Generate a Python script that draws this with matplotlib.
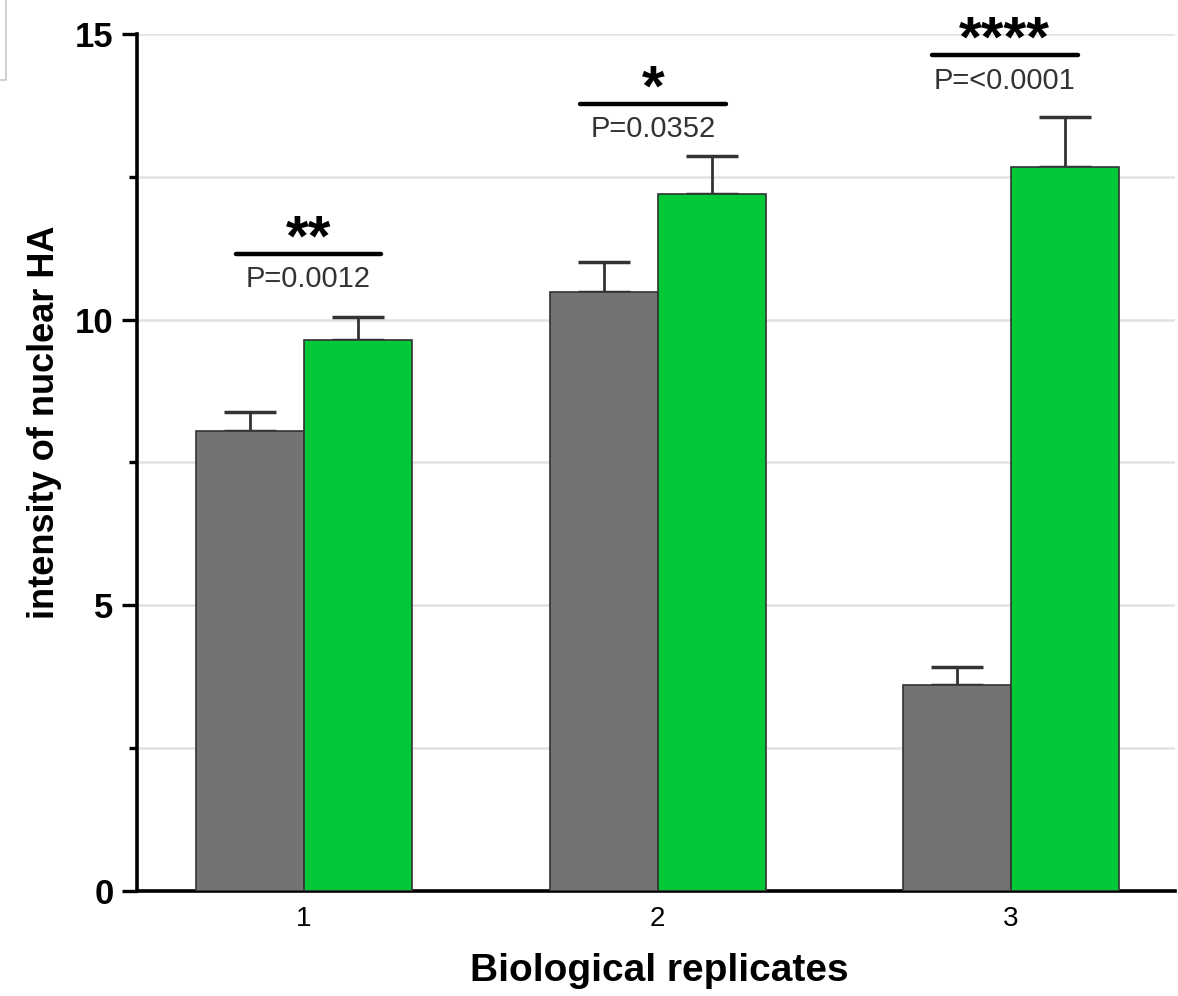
import matplotlib.pyplot as plt
import numpy as np
from matplotlib.lines import Line2D

plt.rcParams['font.family'] = ['Liberation Sans', 'DejaVu Sans']

# data
replicates = ['1', '2', '3']
control_mean = [8.05, 10.49, 3.61]
control_err = [0.33, 0.52, 0.31]
treated_mean = [9.64, 12.20, 12.67]
treated_err = [0.41, 0.67, 0.88]

# significance annotations
sig_stars = ['**', '*', '****']
sig_pvals = ['P=0.0012', 'P=0.0352', 'P=<0.0001']
sig_level = [11.15, 13.78, 14.63]
sig_left = [-0.192, -0.218, -0.224]
sig_right = [0.218, 0.193, 0.189]

gray = '#737373'
green = '#00c837'
edge = '#333333'

fig = plt.figure(figsize=(11.78, 9.96), dpi=100)
ax = fig.add_axes([0.1163, 0.1054, 0.8812, 0.8605])

x = np.arange(len(replicates))
width = 0.3055

ax.bar(x - width / 2, control_mean, width, color=gray, edgecolor=edge, linewidth=1.2, zorder=3)
ax.bar(x + width / 2, treated_mean, width, color=green, edgecolor=edge, linewidth=1.2, zorder=3)

zeros = [0] * len(x)
ax.errorbar(x - width / 2, control_mean, yerr=[zeros, control_err], fmt='none',
            ecolor=edge, elinewidth=2, capsize=19, capthick=2.5, zorder=2)
ax.errorbar(x + width / 2, treated_mean, yerr=[zeros, treated_err], fmt='none',
            ecolor=edge, elinewidth=2, capsize=19, capthick=2.5, zorder=2)

for i in range(len(x)):
    ax.plot([x[i] + sig_left[i], x[i] + sig_right[i]], [sig_level[i], sig_level[i]],
            color='black', linewidth=3.2, solid_capstyle='round', zorder=4)
    xc = x[i] + (sig_left[i] + sig_right[i]) / 2
    ax.text(xc, sig_level[i] - 0.03, sig_stars[i], ha='center', va='baseline',
            fontsize=42, fontweight='bold', color='black')
    ax.text(xc, sig_level[i] - 0.2, sig_pvals[i], ha='center', va='top',
            fontsize=21, color='#333333')

ax.set_xlim(-0.4724, 2.464)
ax.set_ylim(0, 15)
ax.set_yticks([0, 5, 10, 15])
ax.set_yticks([2.5, 7.5, 12.5], minor=True)
ax.set_yticklabels(['0', '5', '10', '15'], fontsize=25, fontweight='bold')
ax.set_xticks(x)
ax.set_xticklabels(replicates, fontsize=20)
ax.tick_params(axis='x', length=0, pad=11)
ax.tick_params(axis='y', which='major', length=11, width=2.4, pad=6)
ax.tick_params(axis='y', which='minor', length=6, width=2.4)

ax.grid(axis='y', which='both', color='#e2e2e2', linewidth=1.8, zorder=0)
ax.set_axisbelow(True)

for side in ['top', 'right']:
    ax.spines[side].set_visible(False)
for side in ['left', 'bottom']:
    ax.spines[side].set_linewidth(2.6)

ax.set_xlabel('Biological replicates', fontsize=28, fontweight='bold')
ax.xaxis.set_label_coords(0.503, -0.072)
ax.set_ylabel('intensity of nuclear HA', fontsize=26, fontweight='bold')
ax.yaxis.set_label_coords(-0.0723, 0.547)

# leftover frame corner at top left of the original image
fig.add_artist(Line2D([0.005, 0.005, 0], [1, 0.92, 0.92], transform=fig.transFigure,
                      color='#c8c8c8', linewidth=1.2))

fig.savefig('out.png', dpi=100)
